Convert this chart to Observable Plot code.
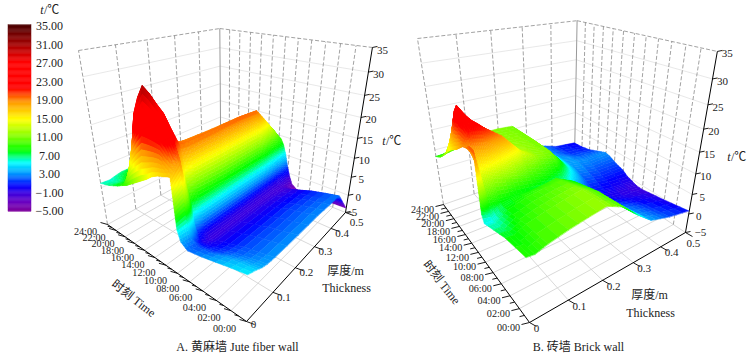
<!DOCTYPE html>
<html><head><meta charset="utf-8">
<script src="https://cdn.jsdelivr.net/npm/d3@7"></script>
<script src="https://cdn.jsdelivr.net/npm/@observablehq/plot@0.6"></script>
<style>html,body{margin:0;padding:0;background:#fff}svg{display:block}</style>
</head><body><div id="chart"></div>
<script>
// Colour ramp (°C)
const rampT = [-5,-3,-1,0.5,3,5.5,8,11,14.7,18.5,21.5,27,31,35];
const rampC = ["#80009a","#6a00c0","#3a00e0","#0000ff","#0090ff","#00ffff","#00ff00","#80ff00","#ffff00","#ff9800","#ff0000","#ff0000","#a00000","#4a0000"];
const legendTicks = [35,31,27,23,19,15,11,7,3,-1,-5];
const hourTicks = [0,2,4,6,8,10,12,14,16,18,20,22,24];
const depthTicks = [0,0.1,0.2,0.3,0.4,0.5];
const tempTicks = [-5,0,5,10,15,20,25,30,35];

// A. Jute fibre wall: temperature per depth over the day
const juteHours = [0,2,4,6,8,9,9.5,10,10.5,11,11.5,12,13,14,15,16,17,18,19,20,22,24];
const juteDepths = [0,0.03,0.05,0.07,0.1,0.2,0.3,0.37,0.43,0.5];
const jute00 = [5.3,4.6,3.8,3.0,2.4,3.5,5.8,16.5,16.3,16,15.8,15.5,14.7,13.5,12.5,11.5,10.5,9.5,8.8,8,6.8,6];
const jute03 = [4.5,4,3.2,2.2,1.8,3,6,19,21,23,25,26.7,28,29.5,30.5,28,24.5,17,9.5,8,6.5,5.8];
const jute05 = [3.8,3.2,2.5,1.4,0.8,1,3,9,14,17,20,23,24,25,25,23,20,15,11,9,7.5,6.2];
const jute07 = [3.4,2.7,2,1,0,-0.2,0.5,1.5,6,10,15,19.5,19.5,19,18,16,14.5,13,11.5,10,8,6.5];
const jute10 = [3.2,2.4,1.7,0.6,-0.4,-1,-0.6,0,5.5,9,14,19.3,19,18,17,15,13.5,12,11,10,8,6.5];
const jute20 = [3,2.2,1.5,0.5,-0.5,-1,-0.8,-0.2,5.5,8.5,14,19.5,18.8,17.5,16.5,14.5,13,12,11,10,8,6.5];
const jute30 = [3,2.2,1.5,0.4,-0.6,-1.1,-0.9,-0.3,5.5,8.5,14,19.8,18.8,17.5,16.2,14.5,13,12,11,10,8,6.5];
const jute37 = [2.7,2,1.2,0.2,-0.8,-1.2,-1,-0.4,5.3,8.5,14,19.5,18.5,17,16,14.5,13,12,11,10,8,6.5];
const jute43 = [2.5,1.8,1,-0.1,-1.2,-1.5,-1,-0.3,4,8,11,15,15,14.5,14.5,14.5,13,12,11,10,8,6.5];
const jute50 = [-3.8,-3.9,-4,-4.2,-4.2,-3,-1,1.5,5,7.5,9,9.5,11,12,13,14.5,13,12,11,10,8,6.5];
const juteColumns = [jute00,jute03,jute05,jute07,jute10,jute20,jute30,jute37,jute43,jute50];

// B. Brick wall
const brickHours = [0,4,8,9,9.5,10,11,12,13,14,15,16,17,18,20,22,24];
const brickDepths = [0,0.02,0.05,0.1,0.15,0.2,0.25,0.3,0.35,0.42,0.5];
const brick00 = [9,8,6,5.5,7,20,20,19,18.5,17.5,16.5,15.8,15,14,11.5,9.5,8.2];
const brick02 = [8.8,7.9,6,5.5,6.5,10,13.5,17.5,22,23.5,24.3,24.6,22.8,19.5,13,10,8.2];
const brick05 = [9.6,9,7.8,7.5,7.8,8.5,12,16.8,21.5,21.5,20.8,20,19,17,13.5,10.5,9];
const brick10 = [10.5,10,9,8.5,8.2,8,10.5,14,18.5,17.5,16.5,15.5,14.5,14,12.5,11,10];
const brick15 = [11.2,10.8,9.6,9,8.3,7.5,9.5,11.3,14,13.5,13,12.5,12.3,12,11.7,11.3,11];
const brick20 = [11.8,11.5,10,9.5,8.2,7,8.5,10,11.5,11.6,11.6,11.6,11.5,11.5,11.3,11.2,11];
const brick25 = [10,9.5,8,7.5,6.5,5.5,7,8.5,10.5,11,11,11,11,11,10.9,10.8,10.7];
const brick30 = [6.5,5.5,4.5,4,3.8,3.5,4,5,6,6.5,6.5,6.5,6.5,6.3,6.2,6.1,6];
const brick35 = [3.5,2.5,0.5,0.5,0.8,1,1.3,2,2.5,3,3.3,3.5,3.5,3.5,3,2.9,2.8];
const brick42 = [1.9,1,-0.5,-0.4,-0.2,0,0.5,1,1.5,2,2.5,2.8,2.5,2.2,1.5,1.2,1];
const brick50 = [0.7,-0.3,-1.1,-1,-0.8,-0.5,0,1,1.4,2,2.7,3,2.5,2,1,0.5,0.3];
const brickColumns = [brick00,brick02,brick05,brick10,brick15,brick20,brick25,brick30,brick35,brick42,brick50];

// Perspective cameras: [time, depth, temperature, constant] in unit box coordinates
const camA = {x:[-98.3,257.7,-61.1,246], y:[-11.9,-11.5,-253.6,321], w:[0.38,0.46,-0.27,1]};
const camB = {x:[120,377.9,-149.9,529], y:[-23.1,-14.8,-253.4,322], w:[0.465,0.324,-0.268,1]};

function project(cam,h,d,T){
  const u=[h/24,d/0.5,(T+5)/40,1];
  const dot=a=>a[0]*u[0]+a[1]*u[1]+a[2]*u[2]+a[3]*u[3];
  const w=dot(cam.w);
  return {x:dot(cam.x)/w,y:dot(cam.y)/w,w};
}

function cells(cam,hours,depths,cols,prefix){
  const list=[];
  for(let i=0;i<hours.length-1;i++)for(let j=0;j<depths.length-1;j++){
    const a=cols[j][i],b=cols[j][i+1],c=cols[j+1][i],e=cols[j+1][i+1];
    const n=Math.min(14,Math.max(2,Math.ceil((Math.max(a,b,c,e)-Math.min(a,b,c,e))/0.8)));
    const val=(u,v)=>a*(1-u)*(1-v)+b*u*(1-v)+c*(1-u)*v+e*u*v;
    const pt=(u,v)=>project(cam,hours[i]+(hours[i+1]-hours[i])*u,depths[j]+(depths[j+1]-depths[j])*v,val(u,v));
    for(let p=0;p<n;p++)for(let q=0;q<n;q++){
      const u0=p/n,u1=(p+1)/n,v0=q/n,v1=(q+1)/n;
      const A=pt(u0,v0),B=pt(u1,v0),C=pt(u1,v1),D=pt(u0,v1);
      list.push({A,B,C,D,T:val((u0+u1)/2,(v0+v1)/2),w:(A.w+B.w+C.w+D.w)/4});
    }
  }
  list.sort((m,n)=>n.w-m.w);
  const rows=[];
  list.forEach((c,k)=>{
    const id=prefix+k;
    rows.push({id,T:c.T,x1:c.A.x,y1:c.A.y,x2:c.D.x,y2:c.D.y});
    rows.push({id,T:c.T,x1:c.B.x,y1:c.B.y,x2:c.C.x,y2:c.C.y});
  });
  return rows;
}

const serif = "'Liberation Serif','Noto Sans CJK SC',serif";
const link=(a,b)=>({x1:a.x,y1:a.y,x2:b.x,y2:b.y});

function frameMarks(cam,tickOut,depthOut){
  const P=(h,d,T)=>project(cam,h,d,T);
  const wallGrid=[], floorGrid=[], dashed=[], solid=[], ticks=[];
  for(const T of tempTicks.slice(1,-1)){
    wallGrid.push(link(P(24,0,T),P(24,0.5,T)));
    wallGrid.push(link(P(24,0.5,T),P(0,0.5,T)));
  }
  for(const d of depthTicks.slice(1,-1)) floorGrid.push(link(P(0,d,-5),P(24,d,-5)));
  for(const h of hourTicks.slice(1,-1)) floorGrid.push(link(P(h,0,-5),P(h,0.5,-5)));
  floorGrid.push(link(P(24,0,-5),P(24,0.5,-5)));
  floorGrid.push(link(P(24,0.5,-5),P(0,0.5,-5)));
  for(const d of depthTicks.slice(1,-1)) dashed.push(link(P(24,d,-5),P(24,d,35)));
  for(const h of hourTicks.slice(1,-1)) dashed.push(link(P(h,0.5,-5),P(h,0.5,35)));
  dashed.push(link(P(24,0,-5),P(24,0,35)));
  dashed.push(link(P(24,0,35),P(24,0.5,35)));
  dashed.push(link(P(24,0.5,35),P(0,0.5,35)));
  const corner=link(P(24,0.5,-5),P(24,0.5,35));
  solid.push(link(P(0,0,-5),P(24,0,-5)));
  solid.push(link(P(0,0,-5),P(0,0.5,-5)));
  solid.push(link(P(0,0.5,-5),P(0,0.5,35)));
  for(let h=0;h<=24;h++){
    const a=P(h,0,-5), k=h%2===0?1:0.6;
    ticks.push({x1:a.x,y1:a.y,x2:a.x+tickOut[0]*k,y2:a.y+tickOut[1]*k});
  }
  for(const d of depthTicks){const a=P(0,d,-5);ticks.push({x1:a.x,y1:a.y,x2:a.x+depthOut[0],y2:a.y+depthOut[1]});}
  for(const T of tempTicks){const a=P(0,0.5,T);ticks.push({x1:a.x,y1:a.y,x2:a.x+5,y2:a.y-1});}
  const L=(r,o)=>Plot.link(r,{x1:"x1",y1:"y1",x2:"x2",y2:"y2",...o});
  return [
    L(wallGrid,{stroke:"#e2e2e2",strokeWidth:0.8}),
    L(floorGrid,{stroke:"#cfcfcf",strokeWidth:0.8}),
    L(dashed,{stroke:"#8a8a8a",strokeWidth:0.8,strokeDasharray:"4,2"}),
    L([corner],{stroke:"#999",strokeWidth:1}),
    L(solid,{stroke:"#000",strokeWidth:1}),
    L(ticks,{stroke:"#000",strokeWidth:0.9})
  ];
}

function hourText(cam,o){
  return hourTicks.map(h=>{const a=project(cam,h,0,-5);return {x:a.x+o[0],y:a.y+o[1],s:String(h).padStart(2,"0")+":00"};});
}
function axisText(cam,o){
  const rows=[];
  depthTicks.forEach(d=>{const a=project(cam,0,d,-5);const f=d===0?o.depth0:d===0.5?o.depthEnd:o.depth;rows.push({x:a.x+f[0],y:a.y+f[1],s:String(d)});});
  tempTicks.forEach(T=>{const a=project(cam,0,0.5,T);const f=T===-5?o.tempMin:o.temp;rows.push({x:a.x+f[0],y:a.y+f[1],s:T<0?"−"+(-T):String(T)});});
  return rows;
}

const cellsA=cells(camA,juteHours,juteDepths,juteColumns,"a");
const cellsB=cells(camB,brickHours,brickDepths,brickColumns,"b");
const surf=r=>Plot.area(r,{x1:"x1",y1:"y1",x2:"x2",y2:"y2",z:"id",fill:"T",stroke:"T",strokeWidth:0.5});

// Colour bar
const barTop=24.7,barBottom=211.3,legendY=T=>26+(35-T)*(210.7-26)/40;
const barRows=d3.range(-5,35,0.25).map(T=>({T:T+0.125,y1:barBottom-(T+5)/40*(barBottom-barTop),y2:barBottom-(T+5.25)/40*(barBottom-barTop)}));
const legendText=legendTicks.map(T=>({y:legendY(T),s:(T<0?"−":"")+Math.abs(T).toFixed(2)}));

const txt=(rows,o)=>Plot.text(rows,{x:"x",y:"y",text:"s",fontFamily:serif,fontSize:12,fill:"#222",lineAnchor:"middle",...o});
const oneOff=(x,y,s,o)=>txt([{x,y,s}],o);
const unit=(x,y)=>[
  txt([{x,y,s:"t"}],{fontStyle:"italic",textAnchor:"end"}),
  txt([{x:x+0.5,y,s:"/℃"}],{textAnchor:"start"})
];

const chart=Plot.plot({
  width:747,height:356,margin:0,
  x:{domain:[0,747],range:[0,747],axis:null},
  y:{domain:[0,356],range:[0,356],axis:null},
  color:{type:"linear",domain:rampT,range:rampC,clamp:true},
  style:{background:"#fff",fontFamily:serif},
  marks:[
    ...frameMarks(camA,[-7,-2],[8,3]),...frameMarks(camB,[-8,2],[7,4]),
    surf(cellsA),surf(cellsB),
    Plot.rect(barRows,{x1:()=>8,x2:()=>31,y1:"y1",y2:"y2",fill:"T",stroke:"T",strokeWidth:0.4}),
    txt(legendText,{x:()=>49}),
    ...unit(43,10),
    txt(hourText(camA,[-22,7]),{fontSize:10.2}),
    txt(hourText(camB,[-21,5]),{fontSize:10.2}),
    txt(axisText(camA,{depth:[11,5],depth0:[7,3],depthEnd:[11,10],temp:[10,2.5],tempMin:[6,0]}),{fontSize:11}),
    txt(axisText(camB,{depth:[11,6],depth0:[7,6],depthEnd:[8,11],temp:[10,2.5],tempMin:[15,0]}),{fontSize:11}),
    oneOff(133,298,"时刻 Time",{rotate:38}),
    oneOff(441,282,"时刻 Time",{rotate:52}),
    oneOff(345,271,"厚度/m"),oneOff(346,288,"Thickness"),
    oneOff(649,295,"厚度/m"),oneOff(650,313,"Thickness"),
    oneOff(237,347,"A. 黄麻墙 Jute fiber wall"),
    oneOff(578,347,"B. 砖墙 Brick wall"),
    ...unit(385,141),
    ...unit(730,157)
  ]
});
document.getElementById("chart").append(chart);
</script>
</body></html>
